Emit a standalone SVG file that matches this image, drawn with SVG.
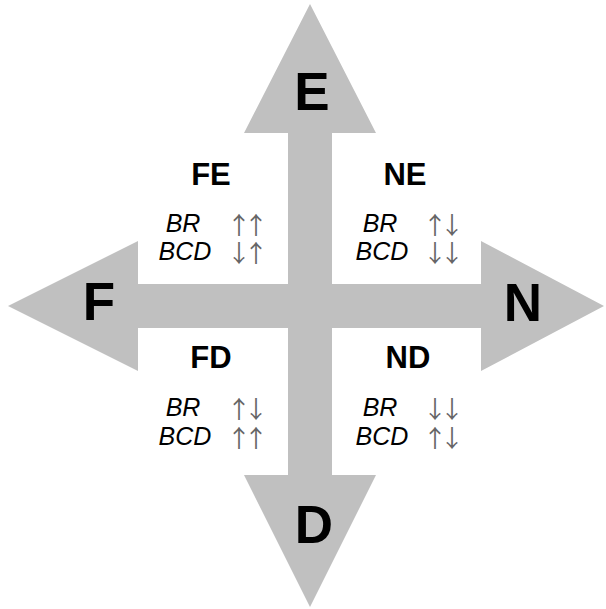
<svg xmlns="http://www.w3.org/2000/svg" width="606" height="609" viewBox="0 0 606 609">
<style>
.ax{fill:#c0c0c0;stroke:none}
.big{font-family:"Liberation Sans",Arial,sans-serif;font-weight:bold;font-size:53px;fill:#000;text-anchor:middle}
.q{font-family:"Liberation Sans",Arial,sans-serif;font-weight:bold;font-size:31px;fill:#000;text-anchor:middle}
.it{font-family:"Liberation Sans",Arial,sans-serif;font-style:italic;font-size:25px;fill:#000;text-anchor:middle}
.ar{font-family:"Noto Sans CJK JP",sans-serif;font-size:24px;fill:#666;text-anchor:start;letter-spacing:-7px}
</style>
<rect width="606" height="609" fill="#fff"/>
<g id="cross">
<path class="ax" d="M310,4 L376,133 L332,133 L332,284 L481,284 L481,241 L604,306 L481,371 L481,328 L332,328 L332,475 L376,475 L310,607 L244,475 L288,475 L288,328 L138,328 L138,371 L8,306 L138,241 L138,284 L288,284 L288,133 L244,133 Z"/>
</g>
<g id="axis-E"><text class="big" x="312" y="110">E</text></g>
<g id="axis-F"><text class="big" x="99" y="320">F</text></g>
<g id="axis-N"><text class="big" x="523" y="321">N</text></g>
<g id="axis-D"><text class="big" x="314" y="543">D</text></g>
<g id="FE">
<text class="q" x="211" y="185">FE</text>
<text class="it" x="183" y="232">BR</text>
<text class="it" x="185" y="260">BCD</text>
<text class="ar" x="227" y="234">↑↑</text>
<text class="ar" x="227" y="262">↓↑</text>
</g>
<g id="NE">
<text class="q" x="405" y="185">NE</text>
<text class="it" x="380" y="232">BR</text>
<text class="it" x="382" y="260">BCD</text>
<text class="ar" x="423" y="234">↑↓</text>
<text class="ar" x="423" y="262">↓↓</text>
</g>
<g id="FD">
<text class="q" x="211" y="368">FD</text>
<text class="it" x="183" y="416">BR</text>
<text class="it" x="185" y="445">BCD</text>
<text class="ar" x="227" y="418">↑↓</text>
<text class="ar" x="227" y="447">↑↑</text>
</g>
<g id="ND">
<text class="q" x="408" y="368">ND</text>
<text class="it" x="380" y="416">BR</text>
<text class="it" x="382" y="445">BCD</text>
<text class="ar" x="423" y="418">↓↓</text>
<text class="ar" x="423" y="447">↑↓</text>
</g>
</svg>
